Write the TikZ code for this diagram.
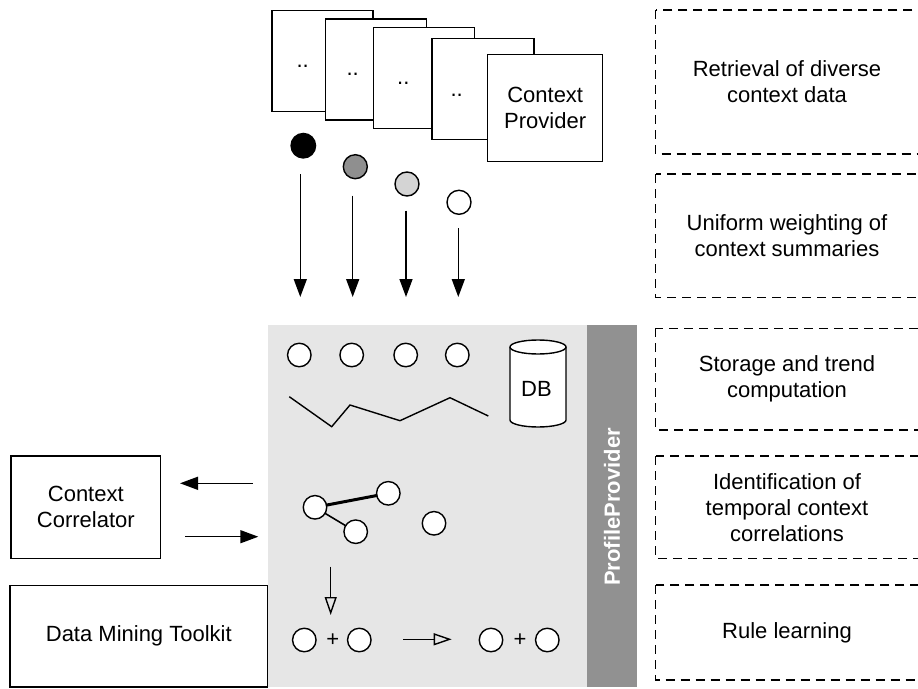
\documentclass[tikz,border=0pt]{standalone}
\usepackage{fontspec}
\setmainfont{Liberation Sans}
\usetikzlibrary{arrows.meta}
\definecolor{panelgray}{HTML}{E6E6E6}
\definecolor{bandgray}{HTML}{919191}
\definecolor{midgray}{HTML}{8F8F8F}
\definecolor{lightgray}{HTML}{D4D4D4}
\begin{document}
\begin{tikzpicture}[x=1pt,y=-1pt,
  every node/.style={font=\fontsize{22}{26}\selectfont, align=center, inner sep=0pt},
  card/.style={draw, fill=white, line width=1.4pt},
  dot/.style={circle, draw, line width=1.4pt, minimum size=23.5pt, fill=white},
  phase/.style={draw, dash pattern=on 9pt off 6pt, line width=1.4pt},
  flow/.style={line width=1.5pt, -{Triangle[length=18pt,width=13pt]}},
  hollow/.style={line width=1.4pt, -{Triangle[open,length=18pt,width=12pt]}},
  thin link/.style={line width=1.6pt},
  thick link/.style={line width=3pt},
]
\useasboundingbox (0,0) rectangle (918,688);
\clip (0,0) rectangle (918,688);

% stacked context provider cards
\node[card, minimum width=101pt, minimum height=101pt] (p1) at (322.3,61.2) {};
\node[card, minimum width=101pt, minimum height=101pt] (p2) at (375.8,69.5) {};
\node[card, minimum width=101pt, minimum height=101pt] (p3) at (424.2,78.2) {};
\node[card, minimum width=102pt, minimum height=101pt] (p4) at (482.8,88.8) {};
\node[card, minimum width=115pt, minimum height=107pt] (cp) at (545.2,108) {Context\\Provider};
\node (d1) at (302.7,66.7) {..};
\node (d2) at (352.7,74) {..};
\node (d3) at (403.3,83.3) {..};
\node (d4) at (456.7,95) {..};

% context summaries with weights
\node[dot, fill=black, minimum size=24.5pt] (w1) at (303.3,145.7) {};
\node[dot, fill=midgray, minimum size=24pt] (w2) at (355.3,166.7) {};
\node[dot, fill=lightgray, minimum size=24pt] (w3) at (407,184) {};
\node[dot, minimum size=24pt] (w4) at (459,202.3) {};

\coordinate (a1s) at (300.3,174);   \coordinate (a1e) at (300.3,297);
\coordinate (a2s) at (352.7,195.7); \coordinate (a2e) at (352.7,297);
\coordinate (a3s) at (406,210.7);   \coordinate (a3e) at (406,297);
\coordinate (a4s) at (458.3,228.3); \coordinate (a4e) at (458.3,297);
\draw[flow] (a1s) -- (a1e);
\draw[flow] (a2s) -- (a2e);
\draw[flow] (a3s) -- (a3e);
\draw[flow] (a4s) -- (a4e);

% profile provider panel
\fill[panelgray] (268,325) rectangle (587,687);
\fill[bandgray] (587,325) rectangle (637,687);
\node[rotate=90, text=white, font=\fontsize{22}{26}\selectfont\bfseries] (pp) at (612,507) {ProfileProvider};

% stored summaries
\node[dot] (s1) at (299.3,355) {};
\node[dot] (s2) at (351.7,355) {};
\node[dot] (s3) at (405.7,355) {};
\node[dot] (s4) at (457.3,355) {};

% trend line
\coordinate (t1) at (289.3,396.7);
\coordinate (t2) at (331.7,426.7);
\coordinate (t3) at (350,405);
\coordinate (t4) at (400,420.7);
\coordinate (t5) at (450,397.7);
\coordinate (t6) at (488.3,416);
\draw[line width=1.4pt] (t1) -- (t2) -- (t3) -- (t4) -- (t5) -- (t6);

% database
\fill[white] (510,347) rectangle (566,420);
\fill[white] (538,420) ellipse[x radius=28, y radius=7];
\draw[line width=1.4pt] (510,347) -- (510,420) arc[start angle=180, end angle=0, x radius=28, y radius=7] -- (566,347);
\draw[line width=1.4pt, fill=white] (538,347) ellipse[x radius=28, y radius=7];
\node (db) at (536.5,389.3) {DB};

% correlations
\coordinate (ca) at (315,507.3);
\coordinate (cb) at (388.3,493.3);
\coordinate (cc) at (355.7,531.7);
\draw[thick link] (ca) -- (cb);
\draw[thin link] (ca) -- (cc);
\node[dot] (k1) at (ca) {};
\node[dot] (k2) at (cb) {};
\node[dot] (k3) at (cc) {};
\node[dot] (k4) at (434,523.3) {};

% rule learning
\coordinate (r1s) at (330.7,566.7); \coordinate (r1e) at (330.7,615);
\draw[hollow] (r1s) -- (r1e);
\node[dot] (l1) at (304.3,640) {};
\node (plus1) at (332.7,640) {+};
\node[dot] (l2) at (359.3,640) {};
\coordinate (r2s) at (403.3,639.3); \coordinate (r2e) at (451.7,639.3);
\draw[hollow] (r2s) -- (r2e);
\node[dot] (m1) at (491,640) {};
\node (plus2) at (520,640) {+};
\node[dot] (m2) at (547.3,640) {};

% external components
\node[card, minimum width=149.7pt, minimum height=102.3pt] (cor) at (85.8,507.2) {Context\\Correlator};
\node[card, minimum width=257.7pt, minimum height=101.3pt] (dmt) at (138.8,636.3) {Data Mining Toolkit};
\coordinate (c1s) at (252.7,483.3); \coordinate (c1e) at (180,483.3);
\coordinate (c2s) at (185,536.7);   \coordinate (c2e) at (258.3,536.7);
\draw[flow] (c1s) -- (c1e);
\draw[flow] (c2s) -- (c2e);

% processing phases (they run on past the right edge)
\draw[phase] (655.7,10) rectangle (940,154);
\draw[phase] (655.7,174) rectangle (940,297.3);
\draw[phase] (655.7,328.3) rectangle (940,430);
\draw[phase] (655.7,456) rectangle (940,558.3);
\draw[phase] (655.7,585) rectangle (940,680);
\node (ph1) at (787,82) {Retrieval of diverse\\context data};
\node (ph2) at (787,235.7) {Uniform weighting of\\context summaries};
\node (ph3) at (787,379.2) {Storage and trend\\computation};
\node (ph4) at (787,507.2) {Identification of\\temporal context\\correlations};
\node (ph5) at (787,632.5) {Rule learning};
\end{tikzpicture}
\end{document}
